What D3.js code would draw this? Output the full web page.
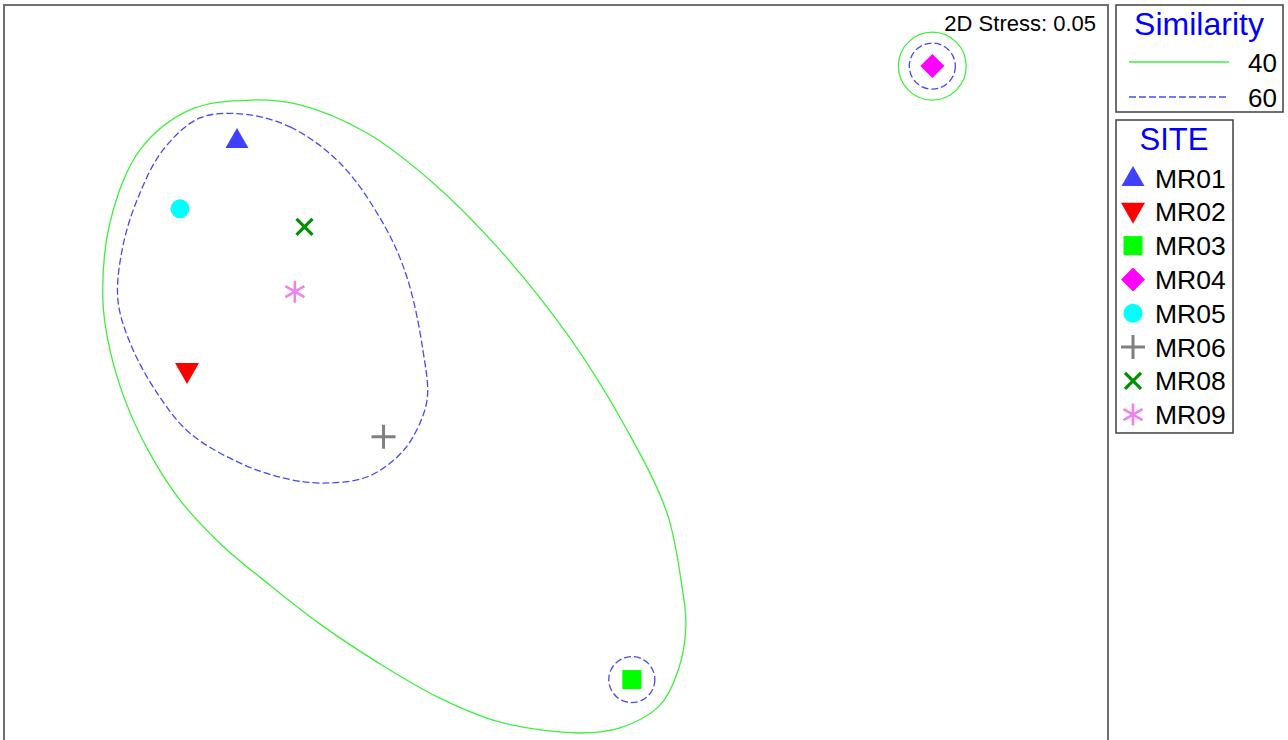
<!DOCTYPE html>
<html>
<head>
<meta charset="utf-8">
<script src="https://cdn.jsdelivr.net/npm/d3@7"></script>
<style>
  html, body { margin: 0; padding: 0; background: #fff; }
  svg { display: block; font-family: Arial, "Liberation Sans", sans-serif; }
</style>
</head>
<body>
<div id="chart"></div>
<script>
// NMDS ordination, sites
const sites = ['MR01', 'MR02', 'MR03', 'MR04', 'MR05', 'MR06', 'MR08', 'MR09'];
const nmds1 = [-0.772, -0.928, 0.462, 1.401, -0.950, -0.314, -0.561, -0.591];
const nmds2 = [0.828, 0.103, -0.858, 1.059, 0.613, -0.099, 0.557, 0.354];
const siteShapes = ['triangleUp', 'triangleDown', 'square', 'diamond', 'circle', 'plus', 'times', 'asterisk'];
const siteColors = ['#4040ff', '#ff0000', '#00ff00', '#ff00ff', '#00ffff', '#808080', '#009000', '#ee82ee'];

const stressLabel = '2D Stress: 0.05';

// Similarity levels
const simLevels = ['40', '60'];
const simColors = ['#3cf03c', '#4848f8'];
const simDash = [null, '7,3'];

// contour outlines (NMDS units)
const contour40 = [
  [-0.731, 0.953], [-0.575, 0.938], [-0.366, 0.850], [-0.159, 0.694], [0.050, 0.484],
  [0.269, 0.209], [0.447, -0.078], [0.572, -0.338], [0.619, -0.569], [0.631, -0.688],
  [0.609, -0.822], [0.550, -0.938], [0.425, -1.009], [0.300, -1.025], [0.050, -0.991],
  [-0.138, -0.916], [-0.325, -0.809], [-0.513, -0.684], [-0.669, -0.563], [-0.819, -0.438],
  [-0.950, -0.297], [-1.050, -0.141], [-1.122, 0.016], [-1.169, 0.172], [-1.191, 0.328],
  [-1.169, 0.569], [-1.075, 0.797], [-0.919, 0.922]
];
const contour60 = [
  [-0.753, 0.909], [-0.606, 0.869], [-0.450, 0.756], [-0.316, 0.569], [-0.241, 0.400],
  [-0.191, 0.172], [-0.178, 0.016], [-0.222, -0.100], [-0.272, -0.163], [-0.366, -0.225],
  [-0.503, -0.244], [-0.628, -0.228], [-0.763, -0.181], [-0.919, -0.088], [-1.022, 0.038],
  [-1.106, 0.194], [-1.144, 0.328], [-1.131, 0.484], [-1.084, 0.641], [-1.003, 0.797],
  [-0.888, 0.897]
];
// single-site groups drawn as rings
const ringSites = ['MR04', 'MR04', 'MR03'];
const ringLevels = ['40', '60', '60'];
const ringRadius = [0.106, 0.072, 0.072];

const width = 1288;
const height = 740;

const svg = d3.select('#chart')
  .append('svg')
  .attr('width', width)
  .attr('height', height);

// Escalas (misma unidad en x e y)
const x = d3.scaleLinear().domain([-1.5, 1.95]).range([4, 1108]);
const y = d3.scaleLinear().domain([-1.125, 1.25]).range([765, 5]);
const unit = x(1) - x(0);

// Marco del gráfico
svg.append('rect')
  .attr('x', x(-1.5))
  .attr('y', y(1.25))
  .attr('width', x(1.95) - x(-1.5))
  .attr('height', y(-1.125) - y(1.25))
  .attr('fill', 'none')
  .attr('stroke', '#707070')
  .attr('stroke-width', 2);

// Contornos de similitud
const line = d3.line()
  .x(d => x(d[0]))
  .y(d => y(d[1]))
  .curve(d3.curveCatmullRomClosed.alpha(0.5));

[contour40, contour60].forEach((pts, i) => {
  svg.append('path')
    .attr('d', line(pts))
    .attr('fill', 'none')
    .attr('stroke', simColors[i])
    .attr('stroke-width', 1.3)
    .attr('stroke-dasharray', simDash[i]);
});

ringSites.forEach((s, i) => {
  const k = sites.indexOf(s);
  const li = simLevels.indexOf(ringLevels[i]);
  svg.append('circle')
    .attr('cx', x(nmds1[k]))
    .attr('cy', y(nmds2[k]))
    .attr('r', ringRadius[i] * unit)
    .attr('fill', 'none')
    .attr('stroke', simColors[li])
    .attr('stroke-width', 1.3)
    .attr('stroke-dasharray', simDash[li]);
});

// Marcadores
function drawMarker(g, shape, color) {
  switch (shape) {
    case 'triangleUp':
      g.append('path').attr('d', 'M0,-12L11.5,8L-11.5,8Z').attr('fill', color);
      break;
    case 'triangleDown':
      g.append('path').attr('d', 'M0,12L12,-9L-12,-9Z').attr('fill', color);
      break;
    case 'square':
      g.append('rect').attr('x', -9.5).attr('y', -9.5).attr('width', 19).attr('height', 19).attr('fill', color);
      break;
    case 'diamond':
      g.append('path').attr('d', 'M0,-12L12,0L0,12L-12,0Z').attr('fill', color);
      break;
    case 'circle':
      g.append('circle').attr('r', 9.5).attr('fill', color);
      break;
    case 'plus':
      g.append('path').attr('d', 'M-12,0H12M0,-12V12')
        .attr('stroke', color).attr('stroke-width', 3).attr('fill', 'none');
      break;
    case 'times':
      g.append('path').attr('d', 'M-8,-8L8,8M-8,8L8,-8')
        .attr('stroke', color).attr('stroke-width', 3.2).attr('fill', 'none');
      break;
    case 'asterisk': {
      const a = 11, c = Math.cos(Math.PI / 6) * a, s = Math.sin(Math.PI / 6) * a;
      g.append('path').attr('d', `M0,${-a}V${a}M${-c},${-s}L${c},${s}M${-c},${s}L${c},${-s}`)
        .attr('stroke', color).attr('stroke-width', 2.6).attr('fill', 'none');
      break;
    }
  }
}

sites.forEach((s, i) => {
  const g = svg.append('g')
    .attr('transform', `translate(${x(nmds1[i])},${y(nmds2[i])})`);
  drawMarker(g, siteShapes[i], siteColors[i]);
});

// Stress
svg.append('text')
  .attr('x', 1096)
  .attr('y', 31)
  .attr('text-anchor', 'end')
  .attr('font-size', 22)
  .attr('fill', '#000')
  .text(stressLabel);

// Leyenda de similitud
const simBox = svg.append('g').attr('transform', 'translate(1116,5)');
simBox.append('rect')
  .attr('width', 167).attr('height', 107)
  .attr('fill', '#fff').attr('stroke', '#404040').attr('stroke-width', 1.5);
simBox.append('text')
  .attr('x', 83).attr('y', 30)
  .attr('text-anchor', 'middle')
  .attr('font-size', 32)
  .attr('fill', '#0000ff')
  .text('Similarity');
simLevels.forEach((lv, i) => {
  const yy = 57 + i * 35;
  simBox.append('line')
    .attr('x1', 13).attr('x2', 113)
    .attr('y1', yy).attr('y2', yy)
    .attr('stroke', simColors[i])
    .attr('stroke-width', 1.5)
    .attr('stroke-dasharray', simDash[i]);
  simBox.append('text')
    .attr('x', 161).attr('y', yy + 10)
    .attr('text-anchor', 'end')
    .attr('font-size', 26)
    .attr('fill', '#000')
    .text(lv);
});

// Leyenda de sitios
const siteBox = svg.append('g').attr('transform', 'translate(1116,120)');
siteBox.append('rect')
  .attr('width', 117).attr('height', 313)
  .attr('fill', '#fff').attr('stroke', '#404040').attr('stroke-width', 1.5);
siteBox.append('text')
  .attr('x', 58).attr('y', 30)
  .attr('text-anchor', 'middle')
  .attr('font-size', 31)
  .attr('fill', '#0000ff')
  .text('SITE');
sites.forEach((s, i) => {
  const cy = 58 + i * 33.8;
  const g = siteBox.append('g').attr('transform', `translate(17,${cy})`);
  drawMarker(g, siteShapes[i], siteColors[i]);
  siteBox.append('text')
    .attr('x', 39).attr('y', cy + 9.5)
    .attr('font-size', 26.5)
    .attr('fill', '#000')
    .text(s);
});
</script>
</body>
</html>
